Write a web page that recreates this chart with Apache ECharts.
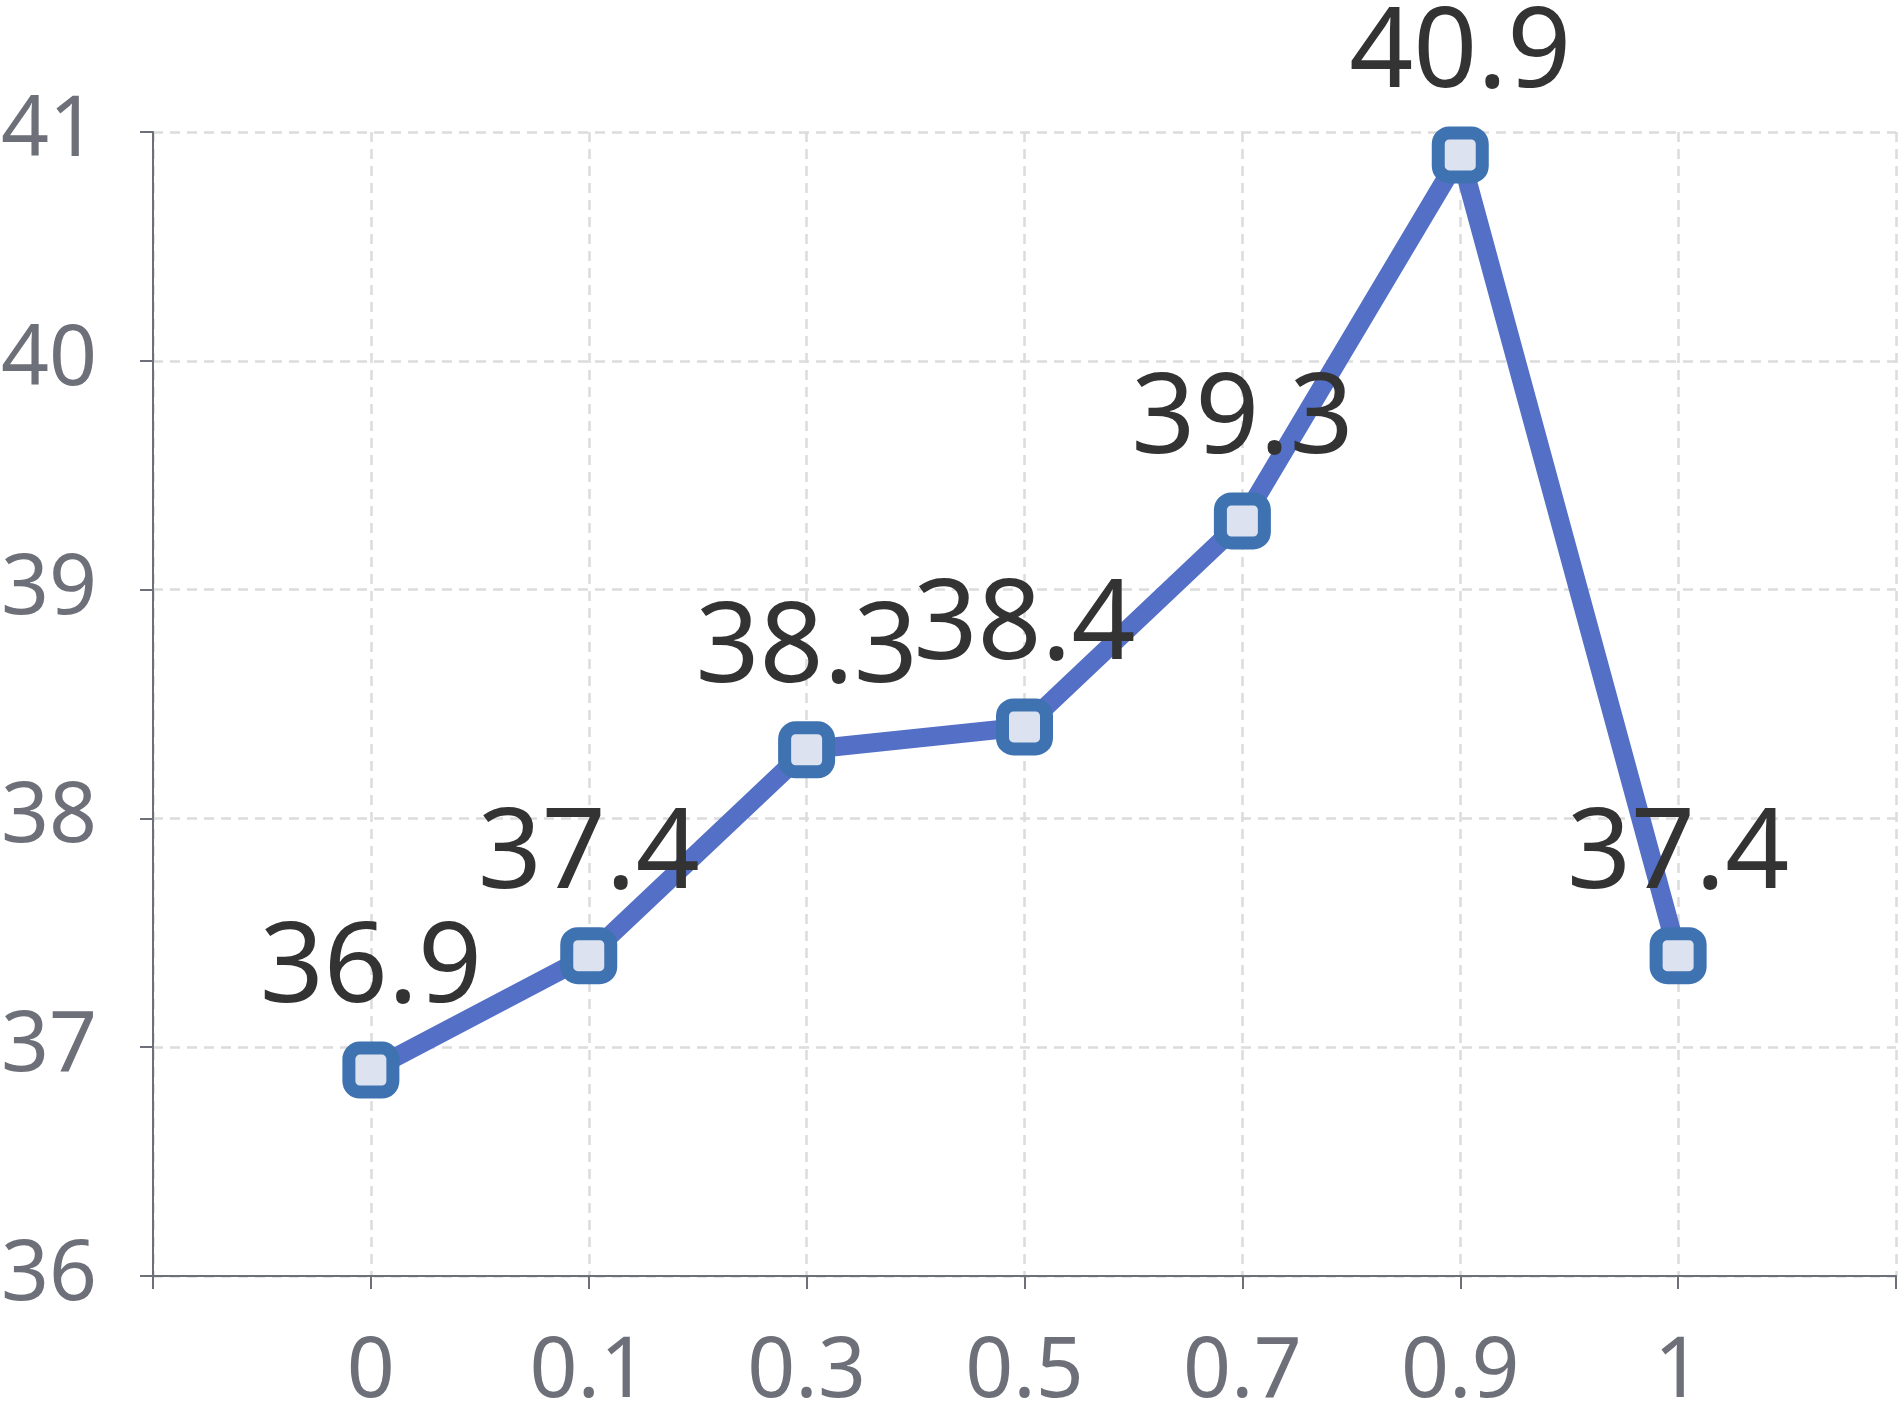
<!DOCTYPE html>
<html>
<head>
<meta charset="utf-8">
<script src="https://cdn.jsdelivr.net/npm/echarts@6/dist/echarts.min.js"></script>
<style>
  html, body { margin: 0; padding: 0; background: #fff; }
  #main { width: 1903px; height: 1408px; }
</style>
</head>
<body>
<div id="main"></div>
<script>
// 横轴类别（按序号等距摆放）
var categories = ["0", "0.1", "0.3", "0.5", "0.7", "0.9", "1"];
// 数值
var values = [36.9, 37.4, 38.3, 38.4, 39.3, 40.9, 37.4];
// 纵轴刻度
var yTicks = [36, 37, 38, 39, 40, 41];

var font = "Noto Sans";
var axisGray = "#6e7079";
var gridLine = { show: true, lineStyle: { color: "#dcdcdc", width: 2.5, type: [10, 7] } };

var chart = echarts.init(document.getElementById("main"));

var option = {
  animation: false,
  grid: { left: 153, right: 7, top: 132, bottom: 132, outerBoundsMode: "none", containLabel: false },
  xAxis: {
    type: "value",
    min: -1,
    max: categories.length,
    interval: 1,
    axisLine: { lineStyle: { color: axisGray, width: 2 } },
    axisTick: { show: true, length: 13, lineStyle: { color: axisGray, width: 2 } },
    axisLabel: {
      color: axisGray,
      fontSize: 84,
      fontFamily: font,
      margin: 55,
      formatter: function (v) {
        return categories[v] !== undefined ? categories[v] : "";
      }
    },
    splitLine: gridLine
  },
  yAxis: {
    type: "value",
    min: yTicks[0],
    max: yTicks[yTicks.length - 1],
    interval: 1,
    axisLine: { show: true, onZero: false, lineStyle: { color: axisGray, width: 2 } },
    axisTick: { show: true, length: 13, lineStyle: { color: axisGray, width: 2 } },
    axisLabel: { color: axisGray, fontSize: 84, fontFamily: font, margin: 56 },
    splitLine: gridLine
  },
  series: [
    {
      type: "line",
      data: values.map(function (v, i) { return [i, v]; }),
      lineStyle: { color: "#5470c6", width: 19 },
      symbol: "roundRect",
      symbolSize: 44,
      itemStyle: { color: "#dce2ef", borderColor: "#3e72b0", borderWidth: 13 },
      label: {
        show: true,
        position: "top",
        distance: 15,
        color: "#333",
        fontSize: 112,
        fontFamily: font,
        formatter: function (p) { return p.value[1]; }
      }
    }
  ]
};

chart.setOption(option);
</script>
</body>
</html>
